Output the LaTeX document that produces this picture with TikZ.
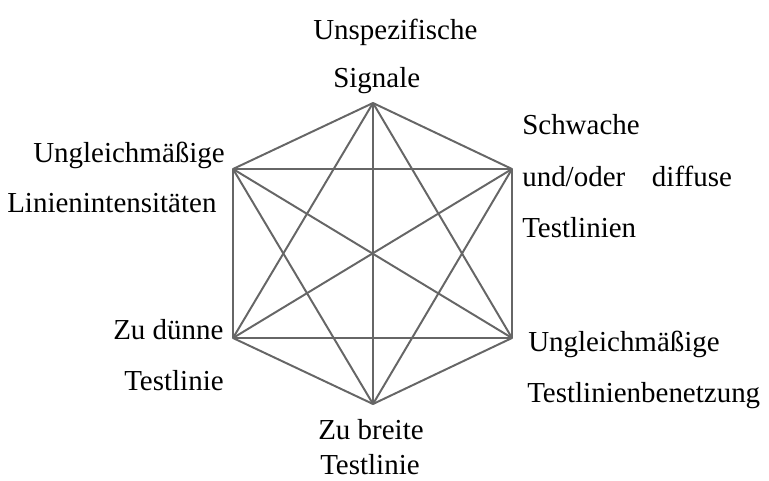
\documentclass[tikz,border=0pt]{standalone}
\usepackage{fontspec}
\setmainfont{Liberation Serif}
\usetikzlibrary{positioning}
\definecolor{edgegray}{RGB}{102,102,102}

\begin{document}
\begin{tikzpicture}[x=0.025cm, y=-0.025cm]
    \tikzstyle{pt}=[inner sep=0pt, minimum size=0pt]
    \tikzstyle{lbl}=[anchor=base west, inner sep=0pt, font=\fontsize{20.6}{24}\selectfont]
    \useasboundingbox (0,0) rectangle (769,480);
    % corners of the hexagon
    \draw (373,103) node[pt] (sig) {} ;
    \draw (512,169) node[pt] (schw) {} ;
    \draw (512,338) node[pt] (benetz) {} ;
    \draw (373,404) node[pt] (breit) {} ;
    \draw (233,338) node[pt] (duenn) {} ;
    \draw (233,169) node[pt] (intens) {} ;
    % every corner joined to every other one
    \foreach \a/\b in {sig/schw, sig/benetz, sig/breit, sig/duenn, sig/intens,
                       schw/benetz, schw/breit, schw/duenn, schw/intens,
                       benetz/breit, benetz/duenn, benetz/intens,
                       breit/duenn, breit/intens, duenn/intens}
        \draw[edgegray, line width=1.4pt, line cap=round] (\a) -- (\b) ;
    % labels
    \draw (313,39) node[lbl] (sigA) {Unspezifische} ;
    \draw (333,87) node[lbl] (sigB) {Signale} ;
    \draw (522,134) node[lbl] (schwA) {Schwache} ;
    \draw (522,186) node[lbl] (schwB) {und/oder\hspace{19pt}diffuse} ;
    \draw (522,237) node[lbl] (schwC) {Testlinien} ;
    \draw (33,162) node[lbl] (intensA) {Ungleichmäßige} ;
    \draw (7,212) node[lbl] (intensB) {Linienintensitäten} ;
    \draw (113,339) node[lbl] (duennA) {Zu dünne} ;
    \draw (124,390) node[lbl] (duennB) {Testlinie} ;
    \draw (318,439) node[lbl] (breitA) {Zu breite} ;
    \draw (320,474) node[lbl] (breitB) {Testlinie} ;
    \draw (528,351) node[lbl] (benetzA) {Ungleichmäßige} ;
    \draw (527,402) node[lbl] (benetzB) {Testlinienbenetzung} ;
\end{tikzpicture}
\end{document}
